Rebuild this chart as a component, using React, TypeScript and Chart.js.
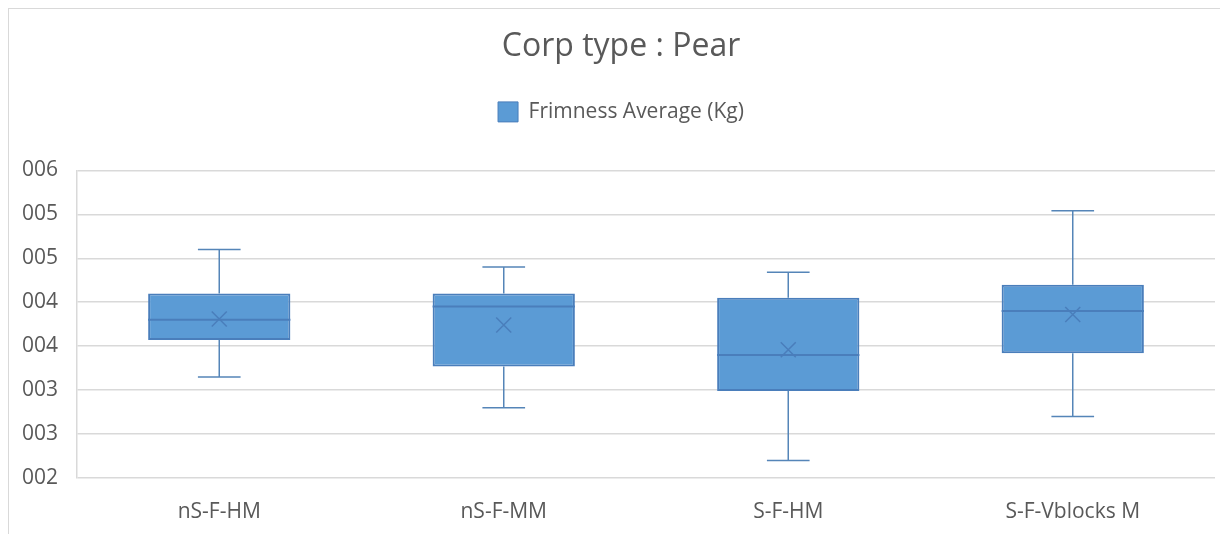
import React, { useEffect, useRef } from "react";
import { Chart, registerables } from "chart.js";

Chart.register(...registerables);

const categories = ["nS-F-HM", "nS-F-MM", "S-F-HM", "S-F-Vblocks M"];
const minValues = [3.15, 2.8, 2.2, 2.7];
const q1Values = [3.57, 3.27, 2.99, 3.42];
const medianValues = [3.8, 3.95, 3.4, 3.9];
const q3Values = [4.1, 4.1, 4.05, 4.2];
const maxValues = [4.6, 4.4, 4.34, 5.04];
const meanValues = [3.81, 3.74, 3.46, 3.86];
const yTicks = [2, 2.5, 3, 3.5, 4, 4.5, 5, 5.5];

const FONT = "'Open Sans', 'DejaVu Sans', sans-serif";
const TEXT = "#595959";
const FILL = "#5B9BD5";
const EDGE = "#4A7EBB";
const LINE = "#5585B8";

const legendSpace = {
  id: "legendSpace",
  beforeInit(chart: any) {
    const legend = chart.legend;
    if (!legend) return;
    const orig = legend.fit;
    legend.fit = function () {
      orig.call(this);
      this.height += 38;
    };
  },
};

const boxPlugin = {
  id: "boxExtras",
  afterDatasetsDraw(chart: any) {
    const meta = chart.getDatasetMeta(0);
    const y = chart.scales.y;
    const ctx = chart.ctx;
    ctx.save();
    meta.data.forEach((bar: any, i: number) => {
      const x = bar.x;
      const w = bar.width;
      const left = x - w / 2;
      const right = x + w / 2;
      const cap = w * 0.15;
      const yMin = y.getPixelForValue(minValues[i]);
      const yQ1 = y.getPixelForValue(q1Values[i]);
      const yMed = y.getPixelForValue(medianValues[i]);
      const yQ3 = y.getPixelForValue(q3Values[i]);
      const yMax = y.getPixelForValue(maxValues[i]);
      const yMean = y.getPixelForValue(meanValues[i]);
      ctx.strokeStyle = LINE;
      ctx.lineWidth = 1.5;
      ctx.beginPath();
      ctx.moveTo(x, yQ3);
      ctx.lineTo(x, yMax);
      ctx.moveTo(x - cap, yMax);
      ctx.lineTo(x + cap, yMax);
      ctx.moveTo(x, yQ1);
      ctx.lineTo(x, yMin);
      ctx.moveTo(x - cap, yMin);
      ctx.lineTo(x + cap, yMin);
      ctx.stroke();
      ctx.strokeStyle = EDGE;
      ctx.lineWidth = 2;
      ctx.beginPath();
      ctx.moveTo(left, yMed);
      ctx.lineTo(right, yMed);
      ctx.stroke();
      const s = 7.5;
      ctx.lineWidth = 1.5;
      ctx.beginPath();
      ctx.moveTo(x - s, yMean - s);
      ctx.lineTo(x + s, yMean + s);
      ctx.moveTo(x + s, yMean - s);
      ctx.lineTo(x - s, yMean + s);
      ctx.stroke();
    });
    ctx.restore();
  },
};

export default function App() {
  const ref = useRef<HTMLCanvasElement | null>(null);
  useEffect(() => {
    if (!ref.current) return;
    const chart = new Chart(ref.current, {
      type: "bar",
      data: {
        labels: categories,
        datasets: [
          {
            label: "Frimness Average (Kg)",
            data: q1Values.map((q1, i) => [q1, q3Values[i]]) as any,
            backgroundColor: FILL,
            borderColor: EDGE,
            borderWidth: 2,
            borderSkipped: false,
            categoryPercentage: 1,
            barPercentage: 0.5,
          },
        ],
      },
      options: {
        animation: false,
        responsive: false,
        events: [],
        layout: { padding: { left: 0, right: 0, top: 0, bottom: 0 } },
        plugins: {
          tooltip: { enabled: false },
          title: {
            display: true,
            text: "Corp type : Pear",
            color: TEXT,
            font: { family: FONT, size: 32, weight: "normal" },
            padding: { top: 19, bottom: 23 },
          },
          legend: {
            display: true,
            position: "top",
            labels: {
              color: TEXT,
              font: { family: FONT, size: 21 },
              boxWidth: 20,
              boxHeight: 20,
              padding: 12,
              generateLabels: () => [
                {
                  text: "Frimness Average (Kg)",
                  fillStyle: FILL,
                  strokeStyle: EDGE,
                  lineWidth: 1,
                  fontColor: TEXT,
                  datasetIndex: 0,
                  hidden: false,
                },
              ],
            },
          },
        },
        scales: {
          x: {
            grid: { display: false, drawTicks: false },
            border: { display: false },
            ticks: { color: TEXT, font: { family: FONT, size: 21 }, padding: 21 },
            afterFit: (s: any) => {
              s.height = 56;
            },
          },
          y: {
            min: 2,
            max: 5.5,
            afterBuildTicks: (s: any) => {
              s.ticks = yTicks.map((v) => ({ value: v }));
            },
            grid: { color: "#D9D9D9", lineWidth: 1.5, drawTicks: false },
            border: { display: true, color: "#D9D9D9", width: 1.5 },
            ticks: {
              color: TEXT,
              font: { family: FONT, size: 21 },
              padding: 19,
              callback: (v: any) => String(Math.round(Number(v))).padStart(3, "0"),
            },
            afterFit: (s: any) => {
              s.width = 68;
            },
          },
          yRight: {
            position: "right",
            min: 2,
            max: 5.5,
            grid: { display: false, drawTicks: false },
            border: { display: false },
            ticks: { display: false },
            afterFit: (s: any) => {
              s.width = 18;
            },
          },
        },
      },
      plugins: [legendSpace, boxPlugin],
    });
    return () => chart.destroy();
  }, []);
  return (
    <div
      style={{
        width: 1219,
        height: 525,
        overflow: "hidden",
        borderLeft: "1px solid #D9D9D9",
        borderTop: "1px solid #D9D9D9",
        background: "#fff",
      }}
    >
      <canvas ref={ref} width={1224} height={525} style={{ display: "block" }} />
    </div>
  );
}
